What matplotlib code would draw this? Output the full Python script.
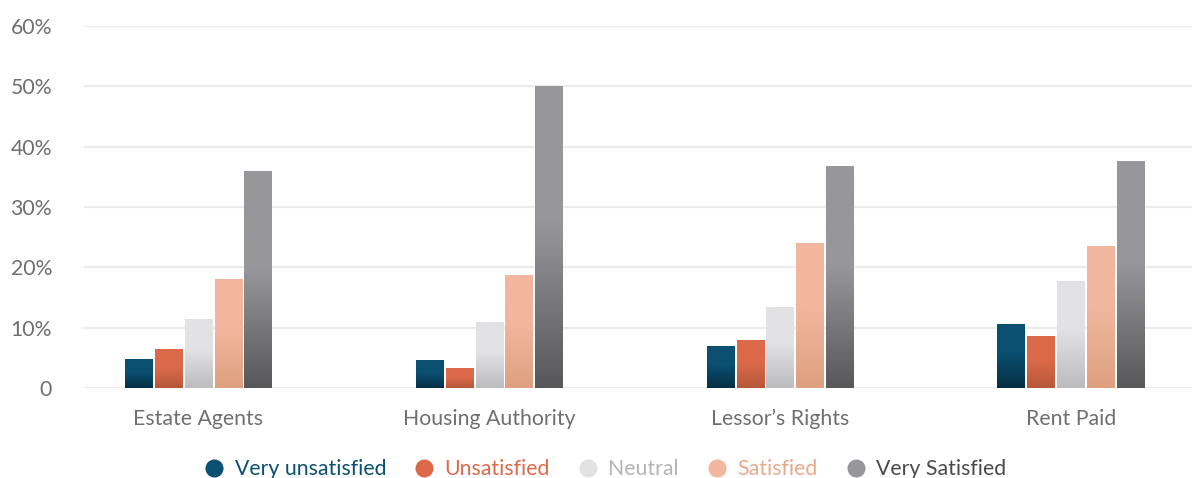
import numpy as np
import matplotlib.pyplot as plt
from matplotlib.colors import to_rgb
from matplotlib.lines import Line2D

categories = ["Estate Agents", "Housing Authority", "Lessor\u2019s Rights", "Rent Paid"]
series = ["Very unsatisfied", "Unsatisfied", "Neutral", "Satisfied", "Very Satisfied"]
very_unsatisfied = [4.8, 4.6, 6.8, 10.6]
unsatisfied = [6.3, 3.2, 7.8, 8.5]
neutral = [11.4, 10.9, 13.4, 17.6]
satisfied = [17.9, 18.7, 23.9, 23.4]
very_satisfied = [35.8, 49.9, 36.7, 37.6]
values = [very_unsatisfied, unsatisfied, neutral, satisfied, very_satisfied]

# top colour, bottom colour of each gradient
top_colors = ["#0b4f71", "#dc6a4a", "#e2e2e4", "#f1b69d", "#97979b"]
bottom_colors = ["#062f45", "#b65839", "#bcbcbe", "#dea07f", "#58585a"]
text_colors = ["#0b4f71", "#dc6a4a", "#b5b5b5", "#e9a98c", "#4a4a4a"]

plt.rcParams['font.family'] = ['Lato', 'DejaVu Sans']

fig = plt.figure(figsize=(11.92, 4.78), dpi=100)
ax = fig.add_axes([0.0705, 0.188, 0.9295, 0.7576])

x = np.arange(len(categories))
width = 0.093
step = 0.103

def gradient(top, bottom, n=100):
    t = np.linspace(0, 1, n)  # 0 bottom, 1 top
    f = np.clip(t / 0.55, 0, 1)[:, None]
    c = np.array(to_rgb(bottom)) * (1 - f) + np.array(to_rgb(top)) * f
    return c[:, None, :]

for i, vals in enumerate(values):
    pos = x + (i - 2) * step
    bars = ax.bar(pos, vals, width, color=top_colors[i], zorder=2)
    img = gradient(top_colors[i], bottom_colors[i])
    for b in bars:
        x0, y0 = b.get_x(), b.get_y()
        ax.imshow(img, extent=[x0, x0 + b.get_width(), y0, y0 + b.get_height()],
                  origin='lower', aspect='auto', zorder=3, interpolation='bilinear')

ax.set_xlim(-0.392, 3.416)
ax.set_ylim(0, 60)
ax.set_yticks(range(0, 61, 10))
ax.set_yticklabels(["0"] + [f"{v}%" for v in range(10, 61, 10)])
ax.set_xticks(x)
ax.set_xticklabels(categories)
ax.grid(axis='y', color='#ececec', lw=1.6, zorder=0)
ax.set_axisbelow(True)
for s in ax.spines.values():
    s.set_visible(False)
ax.tick_params(axis='y', length=0, pad=23, labelsize=15.3, labelcolor='#6f6f6f')
ax.tick_params(axis='x', length=0, pad=15, labelsize=15.3, labelcolor='#6f6f6f')

handles = [Line2D([], [], marker='o', ls='none', markersize=13,
                  markerfacecolor=top_colors[i], markeredgecolor='none')
           for i in range(len(series))]
leg = fig.legend(handles, series, loc='center', bbox_to_anchor=(605 / 1192, 1 - 469 / 478),
                 ncol=5, frameon=False, fontsize=15.3, handlelength=1.0,
                 handletextpad=0.45, columnspacing=1.3, labelcolor=text_colors)

fig.savefig("out.png", dpi=100)
